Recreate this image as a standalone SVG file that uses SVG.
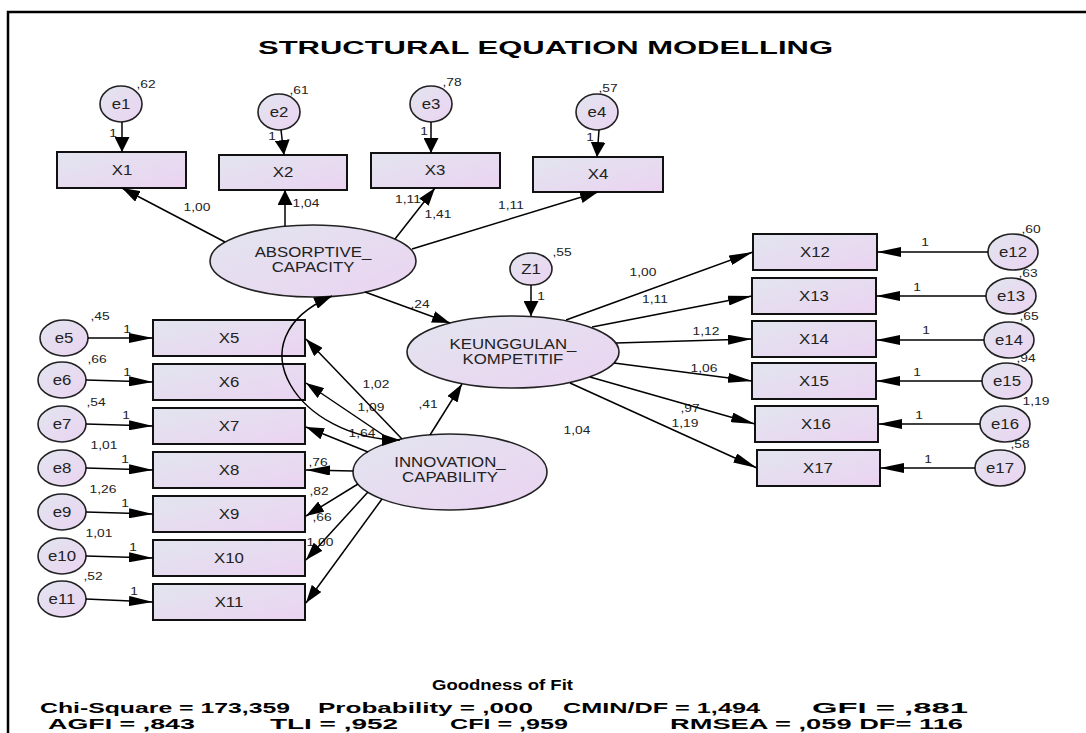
<svg xmlns="http://www.w3.org/2000/svg" width="1086" height="733" viewBox="0 0 1086 733">
<defs>
<linearGradient id="fg" x1="0" y1="0" x2="1" y2="1">
<stop offset="0" stop-color="#e2e5ef"/>
<stop offset="1" stop-color="#ebd3f1"/>
</linearGradient>
<marker id="ah" viewBox="0 0 24 10" refX="24" refY="5" markerWidth="24" markerHeight="10" markerUnits="userSpaceOnUse" orient="auto"><path d="M0,0 L24,5 L0,10 z" fill="#000"/></marker>
<marker id="ad" viewBox="0 0 18 12" refX="18" refY="6" markerWidth="18" markerHeight="12" markerUnits="userSpaceOnUse" orient="auto"><path d="M0,0 L18,6 L0,12 z" fill="#000"/></marker>
<marker id="av" viewBox="0 0 15 15" refX="15" refY="7.5" markerWidth="15" markerHeight="15" markerUnits="userSpaceOnUse" orient="auto"><path d="M0,0 L15,7.5 L0,15 z" fill="#000"/></marker>
<marker id="as" viewBox="0 0 18 12" refX="18" refY="6" markerWidth="18" markerHeight="12" markerUnits="userSpaceOnUse" orient="auto-start-reverse"><path d="M0,0 L18,6 L0,12 z" fill="#000"/></marker>
</defs>
<style>
.box{fill:url(#fg);stroke:#111;stroke-width:2}
.el{fill:url(#fg);stroke:#222;stroke-width:1.6}
.ln{stroke:#000;stroke-width:1.5;fill:none}
text{font-family:"Liberation Sans",Arial,sans-serif;fill:#222}
.nl{font-size:14px;text-anchor:middle;transform-box:fill-box;transform-origin:center;transform:scaleX(1.2)}
.sl{font-size:11.5px;text-anchor:middle;transform-box:fill-box;transform-origin:center;transform:scaleX(1.2)}
.tt{font-size:19px;font-weight:bold;fill:#000}
.fit{font-size:14px;font-weight:bold;fill:#000}
</style>
<rect width="1086" height="733" fill="#fff"/>
<path d="M8,733 L8,12 L1086,12" fill="none" stroke="#000" stroke-width="2.5"/>
<text class="tt" x="258" y="54" textLength="575" lengthAdjust="spacingAndGlyphs">STRUCTURAL EQUATION MODELLING</text>

<g id="e1"><ellipse class="el" cx="121" cy="104" rx="21" ry="18"/><text class="nl" x="121" y="109">e1</text><text class="sl" x="146" y="88">,62</text><text class="sl" x="113" y="137">1</text></g>
<g id="e2"><ellipse class="el" cx="279" cy="112" rx="21" ry="18"/><text class="nl" x="279" y="117">e2</text><text class="sl" x="299" y="94">,61</text><text class="sl" x="272" y="140">1</text></g>
<g id="e3"><ellipse class="el" cx="431" cy="104" rx="21" ry="18"/><text class="nl" x="431" y="109">e3</text><text class="sl" x="452" y="86">,78</text><text class="sl" x="424" y="135">1</text></g>
<g id="e4"><ellipse class="el" cx="597" cy="112" rx="21" ry="18"/><text class="nl" x="597" y="117">e4</text><text class="sl" x="608" y="92">,57</text><text class="sl" x="590" y="141">1</text></g>

<g id="X1"><rect class="box" x="57" y="152" width="129" height="36"/><text class="nl" x="122" y="175">X1</text></g>
<g id="X2"><rect class="box" x="219" y="155" width="128" height="35"/><text class="nl" x="283" y="177">X2</text></g>
<g id="X3"><rect class="box" x="371" y="153" width="129" height="35"/><text class="nl" x="435" y="175">X3</text></g>
<g id="X4"><rect class="box" x="533" y="157" width="130" height="35"/><text class="nl" x="598" y="179">X4</text></g>

<g id="ABSORPTIVE_CAPACITY"><ellipse class="el" cx="313" cy="261" rx="103" ry="36"/><text class="nl" x="313" y="257">ABSORPTIVE_</text><text class="nl" x="313" y="272">CAPACITY</text>
<text class="sl" x="197" y="211">1,00</text><text class="sl" x="306" y="207">1,04</text><text class="sl" x="408" y="203">1,11</text><text class="sl" x="438" y="218">1,41</text><text class="sl" x="511" y="209">1,11</text><text class="sl" x="420" y="308">,24</text></g>

<g id="Z1"><ellipse class="el" cx="531" cy="269" rx="21" ry="16"/><text class="nl" x="531" y="274">Z1</text><text class="sl" x="562" y="256">,55</text><text class="sl" x="541" y="300">1</text></g>

<g id="KEUNGGULAN_KOMPETITIF"><ellipse class="el" cx="513" cy="352" rx="106" ry="36"/><text class="nl" x="513" y="349">KEUNGGULAN_</text><text class="nl" x="513" y="364">KOMPETITIF</text>
<text class="sl" x="643" y="276">1,00</text><text class="sl" x="655" y="303">1,11</text><text class="sl" x="706" y="335">1,12</text><text class="sl" x="704" y="372">1,06</text><text class="sl" x="690" y="412">,97</text><text class="sl" x="685" y="427">1,19</text></g>

<g id="INNOVATION_CAPABILITY"><ellipse class="el" cx="450" cy="472" rx="97" ry="38"/><text class="nl" x="450" y="467">INNOVATION_</text><text class="nl" x="450" y="482">CAPABILITY</text>
<text class="sl" x="577" y="434">1,04</text><text class="sl" x="428" y="408">,41</text><text class="sl" x="268" y="387">,39</text>
<text class="sl" x="376" y="388">1,02</text><text class="sl" x="371" y="411">1,09</text><text class="sl" x="362" y="437">1,64</text><text class="sl" x="318" y="466">,76</text><text class="sl" x="319" y="495">,82</text><text class="sl" x="322" y="521">,66</text><text class="sl" x="320" y="546">1,00</text></g>

<g id="X5"><rect class="box" x="153" y="320" width="152" height="36"/><text class="nl" x="229" y="343">X5</text></g>
<g id="X6"><rect class="box" x="153" y="364" width="152" height="36"/><text class="nl" x="229" y="387">X6</text></g>
<g id="X7"><rect class="box" x="153" y="408" width="152" height="36"/><text class="nl" x="229" y="431">X7</text></g>
<g id="X8"><rect class="box" x="153" y="452" width="152" height="36"/><text class="nl" x="229" y="475">X8</text></g>
<g id="X9"><rect class="box" x="153" y="496" width="152" height="36"/><text class="nl" x="229" y="519">X9</text></g>
<g id="X10"><rect class="box" x="153" y="540" width="152" height="36"/><text class="nl" x="229" y="563">X10</text></g>
<g id="X11"><rect class="box" x="153" y="584" width="152" height="36"/><text class="nl" x="229" y="607">X11</text></g>

<g id="e5"><ellipse class="el" cx="64" cy="338" rx="24" ry="18"/><text class="nl" x="64" y="343">e5</text><text class="sl" x="100" y="320">,45</text><text class="sl" x="127" y="333">1</text></g>
<g id="e6"><ellipse class="el" cx="62" cy="380" rx="24" ry="18"/><text class="nl" x="62" y="385">e6</text><text class="sl" x="97" y="363">,66</text><text class="sl" x="127" y="376">1</text></g>
<g id="e7"><ellipse class="el" cx="62" cy="424" rx="24" ry="18"/><text class="nl" x="62" y="429">e7</text><text class="sl" x="96" y="406">,54</text><text class="sl" x="126" y="419">1</text></g>
<g id="e8"><ellipse class="el" cx="62" cy="468" rx="24" ry="18"/><text class="nl" x="62" y="473">e8</text><text class="sl" x="104" y="449">1,01</text><text class="sl" x="125" y="463">1</text></g>
<g id="e9"><ellipse class="el" cx="62" cy="512" rx="24" ry="18"/><text class="nl" x="62" y="517">e9</text><text class="sl" x="103" y="493">1,26</text><text class="sl" x="125" y="507">1</text></g>
<g id="e10"><ellipse class="el" cx="62" cy="556" rx="24" ry="18"/><text class="nl" x="62" y="561">e10</text><text class="sl" x="99" y="537">1,01</text><text class="sl" x="133" y="551">1</text></g>
<g id="e11"><ellipse class="el" cx="62" cy="599" rx="24" ry="18"/><text class="nl" x="62" y="604">e11</text><text class="sl" x="93" y="580">,52</text><text class="sl" x="134" y="595">1</text></g>

<g id="X12"><rect class="box" x="753" y="234" width="124" height="36"/><text class="nl" x="815" y="257">X12</text></g>
<g id="X13"><rect class="box" x="752" y="278" width="124" height="36"/><text class="nl" x="814" y="301">X13</text></g>
<g id="X14"><rect class="box" x="752" y="321" width="124" height="36"/><text class="nl" x="814" y="344">X14</text></g>
<g id="X15"><rect class="box" x="752" y="363" width="124" height="36"/><text class="nl" x="814" y="386">X15</text></g>
<g id="X16"><rect class="box" x="755" y="406" width="123" height="36"/><text class="nl" x="816" y="429">X16</text></g>
<g id="X17"><rect class="box" x="757" y="450" width="123" height="36"/><text class="nl" x="818" y="473">X17</text></g>

<g id="e12"><ellipse class="el" cx="1013" cy="252" rx="25" ry="18"/><text class="nl" x="1013" y="257">e12</text><text class="sl" x="1031" y="233">,60</text><text class="sl" x="925" y="246">1</text></g>
<g id="e13"><ellipse class="el" cx="1011" cy="296" rx="25" ry="18"/><text class="nl" x="1011" y="301">e13</text><text class="sl" x="1028" y="277">,63</text><text class="sl" x="917" y="291">1</text></g>
<g id="e14"><ellipse class="el" cx="1009" cy="340" rx="25" ry="18"/><text class="nl" x="1009" y="345">e14</text><text class="sl" x="1029" y="320">,65</text><text class="sl" x="926" y="334">1</text></g>
<g id="e15"><ellipse class="el" cx="1007" cy="381" rx="25" ry="18"/><text class="nl" x="1007" y="386">e15</text><text class="sl" x="1026" y="362">,94</text><text class="sl" x="917" y="376">1</text></g>
<g id="e16"><ellipse class="el" cx="1005" cy="424" rx="25" ry="18"/><text class="nl" x="1005" y="429">e16</text><text class="sl" x="1036" y="405">1,19</text><text class="sl" x="919" y="419">1</text></g>
<g id="e17"><ellipse class="el" cx="1000" cy="468" rx="25" ry="18"/><text class="nl" x="1000" y="473">e17</text><text class="sl" x="1020" y="448">,58</text><text class="sl" x="928" y="463">1</text></g>

<g id="connectors">
<line class="ln" x1="122" y1="122" x2="122" y2="152" marker-end="url(#av)"/>
<line class="ln" x1="281" y1="130" x2="284" y2="155" marker-end="url(#av)"/>
<line class="ln" x1="431" y1="122" x2="431" y2="153" marker-end="url(#av)"/>
<line class="ln" x1="599" y1="130" x2="597" y2="157" marker-end="url(#av)"/>
<line class="ln" x1="225" y1="242" x2="122" y2="188" marker-end="url(#ad)"/>
<line class="ln" x1="285" y1="226" x2="285" y2="190" marker-end="url(#av)"/>
<line class="ln" x1="395" y1="239" x2="435" y2="188" marker-end="url(#ad)"/>
<line class="ln" x1="412" y1="249" x2="598" y2="192" marker-end="url(#ad)"/>
<line class="ln" x1="365" y1="292" x2="450" y2="323" marker-end="url(#ad)"/>
<line class="ln" x1="531" y1="285" x2="531" y2="316" marker-end="url(#av)"/>
<line class="ln" x1="566" y1="320" x2="753" y2="252" marker-end="url(#ah)"/>
<line class="ln" x1="592" y1="327" x2="752" y2="296" marker-end="url(#ah)"/>
<line class="ln" x1="616" y1="343" x2="752" y2="339" marker-end="url(#ah)"/>
<line class="ln" x1="614" y1="363" x2="752" y2="381" marker-end="url(#ah)"/>
<line class="ln" x1="590" y1="377" x2="755" y2="424" marker-end="url(#ah)"/>
<line class="ln" x1="570" y1="383" x2="757" y2="468" marker-end="url(#ah)"/>
<line class="ln" x1="988" y1="252" x2="877" y2="252" marker-end="url(#ah)"/>
<line class="ln" x1="986" y1="296" x2="876" y2="296" marker-end="url(#ah)"/>
<line class="ln" x1="984" y1="340" x2="876" y2="340" marker-end="url(#ah)"/>
<line class="ln" x1="982" y1="381" x2="876" y2="381" marker-end="url(#ah)"/>
<line class="ln" x1="980" y1="424" x2="878" y2="424" marker-end="url(#ah)"/>
<line class="ln" x1="975" y1="468" x2="880" y2="468" marker-end="url(#ah)"/>
<line class="ln" x1="88" y1="338" x2="153" y2="338" marker-end="url(#ah)"/>
<line class="ln" x1="86" y1="380" x2="153" y2="382" marker-end="url(#ah)"/>
<line class="ln" x1="86" y1="424" x2="153" y2="426" marker-end="url(#ah)"/>
<line class="ln" x1="86" y1="468" x2="153" y2="470" marker-end="url(#ah)"/>
<line class="ln" x1="86" y1="512" x2="153" y2="514" marker-end="url(#ah)"/>
<line class="ln" x1="86" y1="556" x2="153" y2="558" marker-end="url(#ah)"/>
<line class="ln" x1="86" y1="599" x2="153" y2="602" marker-end="url(#ah)"/>
<line class="ln" x1="402" y1="439" x2="306" y2="339" marker-end="url(#ad)"/>
<line class="ln" x1="392" y1="441" x2="306" y2="383" marker-end="url(#ad)"/>
<line class="ln" x1="368" y1="452" x2="306" y2="427" marker-end="url(#ad)"/>
<line class="ln" x1="353" y1="471" x2="306" y2="470" marker-end="url(#ah)"/>
<line class="ln" x1="358" y1="484" x2="306" y2="516" marker-end="url(#ad)"/>
<line class="ln" x1="368" y1="492" x2="306" y2="560" marker-end="url(#ad)"/>
<line class="ln" x1="382" y1="499" x2="306" y2="603" marker-end="url(#ad)"/>
<line class="ln" x1="430" y1="435" x2="462" y2="384" marker-end="url(#ad)"/>
<path class="ln" d="M400,440 C300,440 230,340 332,296" marker-start="url(#as)" marker-end="url(#as)"/>
</g>

<g id="fit">
<text x="432" y="690" style="font-size:14px;font-weight:bold;fill:#000" textLength="141" lengthAdjust="spacingAndGlyphs">Goodness of Fit</text>
<text class="fit" x="40" y="713" textLength="250" lengthAdjust="spacingAndGlyphs">Chi-Square = 173,359</text>
<text class="fit" x="318" y="713" textLength="215" lengthAdjust="spacingAndGlyphs">Probability = ,000</text>
<text class="fit" x="563" y="713" textLength="197" lengthAdjust="spacingAndGlyphs">CMIN/DF = 1,494</text>
<text class="fit" x="812" y="713" textLength="156" lengthAdjust="spacingAndGlyphs">GFI = ,881</text>
<text class="fit" x="48" y="729" textLength="147" lengthAdjust="spacingAndGlyphs">AGFI = ,843</text>
<text class="fit" x="270" y="729" textLength="128" lengthAdjust="spacingAndGlyphs">TLI = ,952</text>
<text class="fit" x="450" y="729" textLength="118" lengthAdjust="spacingAndGlyphs">CFI = ,959</text>
<text class="fit" x="670" y="729" textLength="293" lengthAdjust="spacingAndGlyphs">RMSEA = ,059 DF= 116</text>
</g>
</svg>
